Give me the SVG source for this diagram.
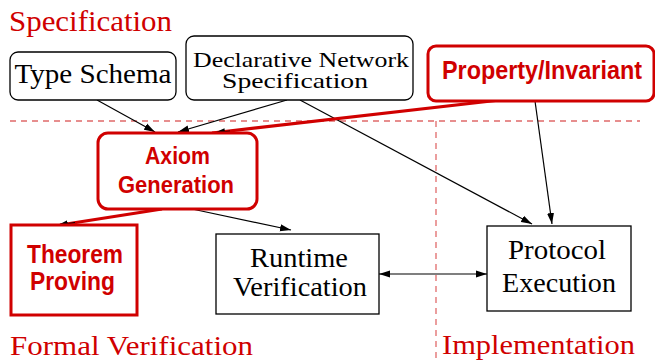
<svg xmlns="http://www.w3.org/2000/svg" width="655" height="361" viewBox="0 0 655 361">
  <style>
    .box { fill: #fff; stroke: #000; stroke-width: 1.3; }
    .rbox { fill: #fff; stroke: #d00000; stroke-width: 3; }
    .divider { fill: none; stroke: #e06a6a; stroke-width: 1.3; stroke-dasharray: 6 5; }
    .edge { fill: none; stroke: #000; stroke-width: 1.2; }
    .redge { fill: none; stroke: #d00000; stroke-width: 3.2; }
  </style>
  <defs>
    <marker id="head" markerUnits="userSpaceOnUse" markerWidth="12" markerHeight="8" refX="11" refY="4" orient="auto">
      <path d="M0,0.5 L11,4 L0,7.5 Z" fill="#000"/>
    </marker>
    <marker id="tail" markerUnits="userSpaceOnUse" markerWidth="12" markerHeight="8" refX="1" refY="4" orient="auto">
      <path d="M12,0.5 L1,4 L12,7.5 Z" fill="#000"/>
    </marker>
  </defs>

  <rect width="655" height="361" fill="#fff"/>

  <!-- region dividers -->
  <g id="dividers">
    <line class="divider" x1="10" y1="121" x2="640" y2="121"/>
    <line class="divider" x1="436" y1="121" x2="436" y2="361"/>
  </g>

  <!-- region captions -->
  <g id="captions" font-family="Liberation Serif" fill="#d00000">
    <text x="9" y="31" font-size="29" textLength="163" lengthAdjust="spacingAndGlyphs">Specification</text>
    <text x="10" y="355" font-size="28" textLength="243" lengthAdjust="spacingAndGlyphs">Formal Verification</text>
    <text x="442" y="354" font-size="28" textLength="193" lengthAdjust="spacingAndGlyphs">Implementation</text>
  </g>

  <!-- connectors -->
  <g id="connectors">
    <line class="edge" x1="97" y1="100" x2="155" y2="132" marker-end="url(#head)"/>
    <line class="edge" x1="287" y1="100" x2="178" y2="132" marker-end="url(#head)"/>
    <line class="edge" x1="300" y1="100" x2="532" y2="224" marker-end="url(#head)"/>
    <line class="edge" x1="535" y1="101" x2="552" y2="224" marker-end="url(#head)"/>
    <line class="edge" x1="192" y1="209" x2="291" y2="230" marker-end="url(#head)"/>
    <line class="edge" x1="379" y1="274" x2="487" y2="274" marker-start="url(#tail)" marker-end="url(#head)"/>
    <line class="redge" x1="500" y1="100" x2="212" y2="133"/>
    <line class="edge" x1="230" y1="131" x2="214" y2="133" marker-end="url(#head)"/>
    <line class="redge" x1="162" y1="209" x2="60" y2="225"/>
    <line class="edge" x1="75" y1="222.5" x2="57" y2="225.5" marker-end="url(#head)"/>
  </g>

  <!-- nodes -->
  <g id="type-schema" font-family="Liberation Serif" text-anchor="middle">
    <rect class="box" x="10" y="52" width="166" height="48" rx="8"/>
    <text x="93" y="83" font-size="28" textLength="157" lengthAdjust="spacingAndGlyphs">Type Schema</text>
  </g>

  <g id="declarative-network-specification" font-family="Liberation Serif" text-anchor="middle">
    <rect class="box" x="186" y="36" width="227" height="64" rx="8"/>
    <text x="301" y="67" font-size="22" textLength="216" lengthAdjust="spacingAndGlyphs">Declarative Network</text>
    <text x="295" y="88" font-size="22" textLength="146" lengthAdjust="spacingAndGlyphs">Specification</text>
  </g>

  <g id="property-invariant" font-family="Liberation Sans" font-weight="bold" fill="#d00000" text-anchor="middle">
    <rect class="rbox" x="428" y="46" width="226" height="55" rx="8"/>
    <text x="542" y="79" font-size="25" textLength="200" lengthAdjust="spacingAndGlyphs">Property/Invariant</text>
  </g>

  <g id="axiom-generation" font-family="Liberation Sans" font-weight="bold" fill="#d00000" text-anchor="middle">
    <rect class="rbox" x="98" y="133" width="159" height="76" rx="10"/>
    <text x="177.5" y="164" font-size="24" textLength="65" lengthAdjust="spacingAndGlyphs">Axiom</text>
    <text x="176" y="193" font-size="24" textLength="116" lengthAdjust="spacingAndGlyphs">Generation</text>
  </g>

  <g id="theorem-proving" font-family="Liberation Sans" font-weight="bold" fill="#d00000" text-anchor="middle">
    <rect class="rbox" x="11" y="225" width="126" height="90"/>
    <text x="75" y="263" font-size="25" textLength="96" lengthAdjust="spacingAndGlyphs">Theorem</text>
    <text x="72.5" y="290" font-size="25" textLength="85" lengthAdjust="spacingAndGlyphs">Proving</text>
  </g>

  <g id="runtime-verification" font-family="Liberation Serif" text-anchor="middle">
    <rect class="box" x="216" y="234" width="163" height="80"/>
    <text x="299" y="267" font-size="28" textLength="98" lengthAdjust="spacingAndGlyphs">Runtime</text>
    <text x="300" y="296" font-size="28" textLength="134" lengthAdjust="spacingAndGlyphs">Verification</text>
  </g>

  <g id="protocol-execution" font-family="Liberation Serif" text-anchor="middle">
    <rect class="box" x="487" y="226" width="144" height="85"/>
    <text x="557" y="259" font-size="28" textLength="98" lengthAdjust="spacingAndGlyphs">Protocol</text>
    <text x="559" y="292" font-size="28" textLength="114" lengthAdjust="spacingAndGlyphs">Execution</text>
  </g>
</svg>
